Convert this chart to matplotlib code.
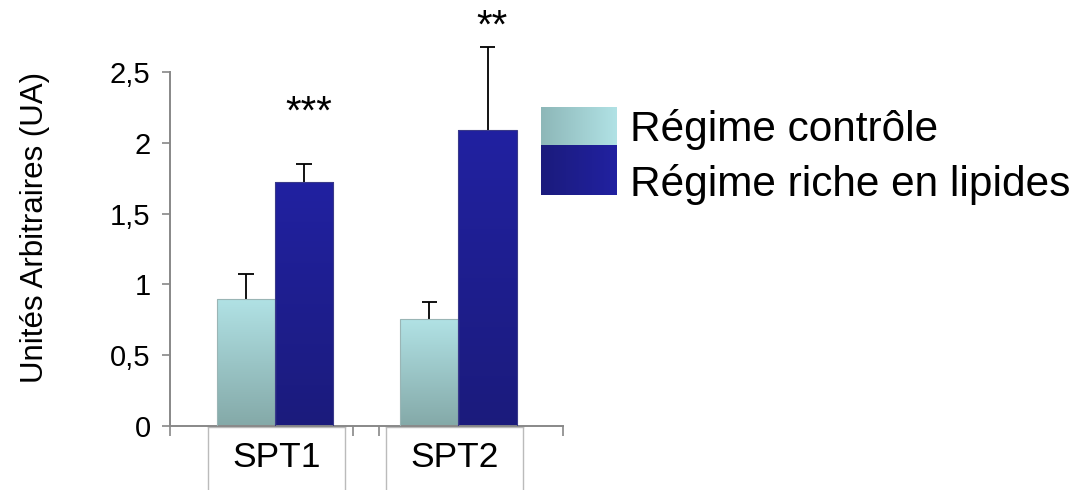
import numpy as np
import matplotlib
matplotlib.use("Agg")
import matplotlib.pyplot as plt
from matplotlib.colors import LinearSegmentedColormap
from matplotlib.transforms import blended_transform_factory

plt.rcParams['font.family'] = ['Liberation Sans', 'DejaVu Sans']

# data
genes = ["SPT1", "SPT2"]
series = ["Régime contrôle", "Régime riche en lipides"]
controle = [0.90, 0.755]
controle_err = [0.175, 0.12]
lipides = [1.725, 2.09]
lipides_err = [0.125, 0.59]
stars = ["***", "**"]

yticks = [0, 0.5, 1, 1.5, 2, 2.5]
yticklabels = ["0", "0,5", "1", "1,5", "2", "2,5"]

# gradients (top colour, bottom colour)
light_grad = ["#b1e2e5", "#84a9a8"]
dark_grad = ["#2121a1", "#1b1b7c"]

fig = plt.figure(figsize=(10.92, 4.9), dpi=100)
ax = fig.add_axes([170/1092, 64/490, 393/1092, 354/490])

centers = np.array([0.267, 0.734])
w = 0.148


def gradient_bars(bars, cols):
    cmap = LinearSegmentedColormap.from_list("g", cols[::-1])
    grad = np.linspace(0, 1, 256).reshape(-1, 1)
    for b in bars:
        x0, y0 = b.get_x(), b.get_y()
        im = ax.imshow(grad, cmap=cmap, origin="lower", aspect="auto",
                       extent=[x0, x0 + b.get_width(), y0, y0 + b.get_height()],
                       zorder=2)
        im.set_clip_path(b)


def up_errors(xs, vals, errs):
    # only the upper half of the error bar is shown
    tops = np.array(vals) + np.array(errs)
    ax.vlines(xs, vals, tops, color="black", lw=1.3, zorder=1, clip_on=False)
    ax.hlines(tops, xs - 0.02, xs + 0.02, color="black", lw=1.3, zorder=1,
              clip_on=False)


b1 = ax.bar(centers - w/2, controle, w, facecolor="none",
            edgecolor="#9ab5b5", linewidth=0.8, zorder=3)
b2 = ax.bar(centers + w/2, lipides, w, facecolor="none",
            edgecolor="#3a3a8a", linewidth=0.8, zorder=3)
gradient_bars(b1, light_grad)
gradient_bars(b2, dark_grad)

up_errors(centers - w/2, controle, controle_err)
up_errors(centers + w/2, lipides, lipides_err)

star_gap = [0.36, 0.14]
for c, v, e, s, g in zip(centers, lipides, lipides_err, stars, star_gap):
    ax.text(c + w/2 + 0.012, v + e + g, s, ha="center", va="center",
            fontsize=29, clip_on=False)

ax.set_xlim(0, 1)
ax.set_ylim(0, 2.5)
ax.set_yticks(yticks)
ax.set_yticklabels(yticklabels, fontsize=21)
ax.set_xticks([0, 0.466, 0.532, 1.0])
ax.set_xticklabels([])
ax.tick_params(axis="y", direction="out", length=6, width=1.2,
               color="#888888", pad=8)
ax.tick_params(axis="x", direction="out", length=7, width=1.2,
               color="#888888")
for side in ["top", "right"]:
    ax.spines[side].set_visible(False)
for side in ["left", "bottom"]:
    ax.spines[side].set_color("#888888")
    ax.spines[side].set_linewidth(1.4)
fig.text(35/1092, 1 - 227/490, "Unités Arbitraires (UA)", fontsize=22.5,
         rotation=90, ha="center", va="center")

# category boxes under the axis
tr = blended_transform_factory(ax.transAxes, ax.transAxes)
ybot = -64/354
boxes = [(0.0955, 0.445), (0.5496, 0.898)]
for (l, r), g in zip(boxes, genes):
    ax.plot([l, l], [0, ybot], transform=tr, color="#bbbbbb", lw=1, clip_on=False)
    ax.plot([r, r], [0, ybot], transform=tr, color="#bbbbbb", lw=1, clip_on=False)
    ax.plot([l, r], [-0.003, -0.003], transform=tr, color="#bbbbbb", lw=1, clip_on=False)
    ax.text((l + r)/2, -31/354, g, transform=tr, ha="center", va="center",
            fontsize=25.5)

# legend
lax = fig.add_axes([541/1092, (490-195)/490, 76/1092, 88/490])
hgrad = np.linspace(0, 1, 256).reshape(1, -1)
lc = LinearSegmentedColormap.from_list("l", ["#8db7b8", "#b1e2e5"])
dc = LinearSegmentedColormap.from_list("d", ["#1b1b7c", "#2121a1"])
lax.imshow(hgrad, cmap=lc, aspect="auto", extent=[0, 1, 0.56, 1])
lax.imshow(hgrad, cmap=dc, aspect="auto", extent=[0, 1, 0, 0.56])
lax.set_xlim(0, 1)
lax.set_ylim(0, 1)
lax.axis("off")
fig.text(630/1092, 1 - 129/490, series[0], fontsize=30.5, va="center", ha="left")
fig.text(630/1092, 1 - 184/490, series[1], fontsize=30.5, va="center", ha="left")

fig.savefig("out.png", dpi=100)
